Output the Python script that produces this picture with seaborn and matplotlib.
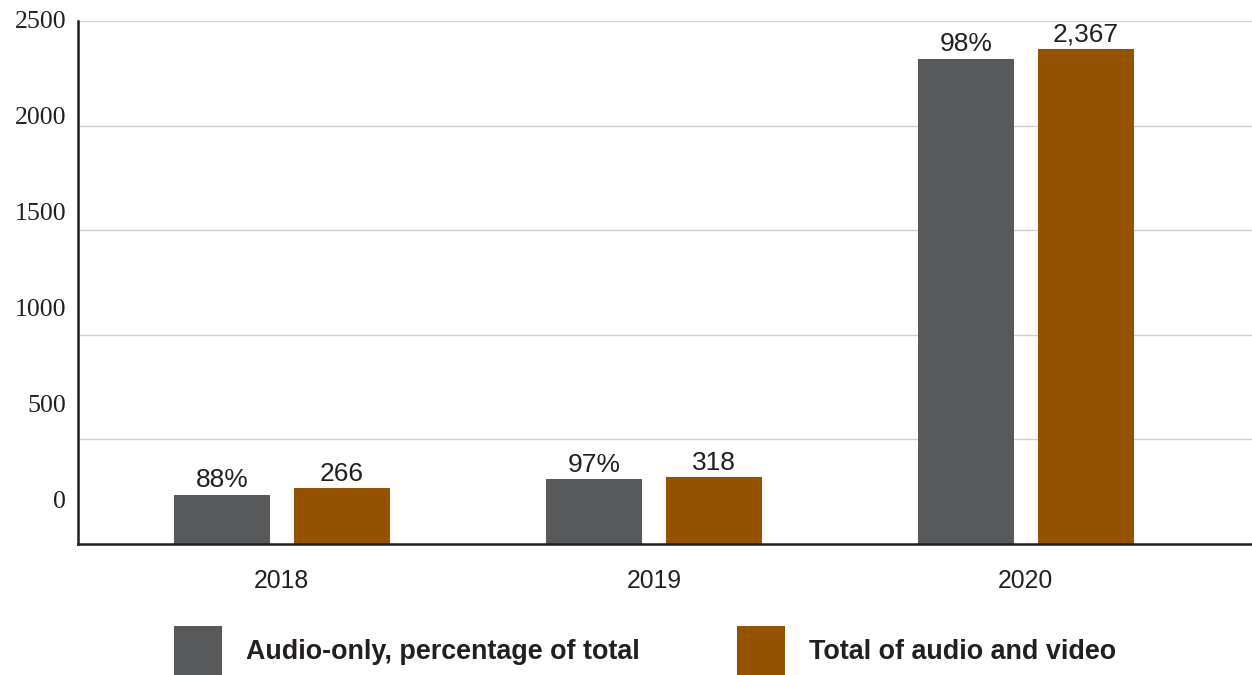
import matplotlib
matplotlib.use("Agg")
import matplotlib.pyplot as plt
import matplotlib.transforms as mtransforms
import seaborn as sns
import pandas as pd

years = ["2018", "2019", "2020"]
audio_only = [234, 309, 2320]
total_av = [266, 318, 2367]
audio_labels = ["88%", "97%", "98%"]
total_labels = ["266", "318", "2,367"]
series_names = ["Audio-only, percentage of total", "Total of audio and video"]
y_ticks = [0, 500, 1000, 1500, 2000, 2500]

GRAY = "#58595B"
ORANGE = "#955300"
TXT = "#231F20"

sns.set_theme(style="white")
plt.rcParams['font.family'] = ['Liberation Sans', 'DejaVu Sans']

df = pd.DataFrame({
    "year": years * 2,
    "value": audio_only + total_av,
    "series": [series_names[0]] * 3 + [series_names[1]] * 3,
})

fig = plt.figure(figsize=(12.52, 6.75), dpi=100)
ax = fig.add_axes([78 / 1252, 1 - 544 / 675, 1 - 78 / 1252, (544 - 21) / 675])

sns.barplot(data=df, x="year", y="value", hue="series", order=years,
            hue_order=series_names, palette=[GRAY, ORANGE],
            width=0.645, gap=0.2, saturation=1, ax=ax, legend=True,
            errorbar=None, linewidth=0)

ax.set_xlim(-0.548, 2.608)
ax.set_ylim(0, 2500)
ax.set_yticks(y_ticks)
ax.set_yticklabels([str(v) for v in y_ticks], family='Liberation Serif',
                   fontsize=18.6, color=TXT)
ax.set_xlabel("")
ax.set_ylabel("")
ax.tick_params(axis='y', length=0, pad=8.6)
ax.tick_params(axis='x', length=0, pad=18, labelsize=17.8, labelcolor=TXT)
ax.grid(axis='y', color='#CFCFCF', linewidth=1.0)
ax.set_axisbelow(True)

# the reference places the y labels on an evenly spaced, offset column
for i, lab in enumerate(ax.get_yticklabels()):
    off = (44 - 8.6 * i) / 100.0
    lab.set_transform(lab.get_transform() +
                      mtransforms.ScaledTranslation(0, off, fig.dpi_scale_trans))

for s in ['top', 'right']:
    ax.spines[s].set_visible(False)
ax.spines['left'].set_color(TXT)
ax.spines['left'].set_linewidth(1.8)
ax.spines['bottom'].set_color(TXT)
ax.spines['bottom'].set_linewidth(1.8)

labels_by_series = [audio_labels, total_labels]
for cont, labs in zip(ax.containers, labels_by_series):
    ax.bar_label(cont, labels=labs, padding=2, fontsize=19, color=TXT)

handles, _ = ax.get_legend_handles_labels()
ax.legend(handles, series_names, loc='upper left',
          bbox_to_anchor=(174 / 1252, 1 - 626 / 675), bbox_transform=fig.transFigure,
          ncol=2, frameon=False, borderpad=0, borderaxespad=0,
          handlelength=1.78, handleheight=2.5, handletextpad=0.89,
          columnspacing=3.6,
          prop={'family': 'Liberation Sans', 'weight': 'bold', 'size': 19.4})
for t in ax.get_legend().get_texts():
    t.set_color(TXT)

fig.savefig("out.png", dpi=100)
